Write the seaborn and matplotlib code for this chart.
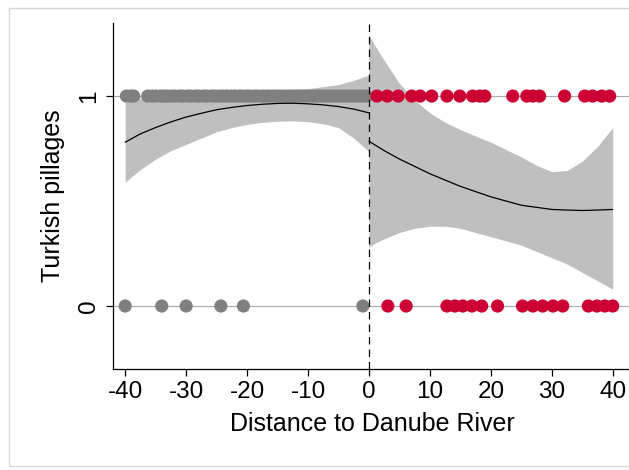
import numpy as np
import pandas as pd
import matplotlib
matplotlib.use("Agg")
import matplotlib.pyplot as plt
from matplotlib.patches import Rectangle
import seaborn as sns

# Observations: distance to the Danube (km) and pillage indicator
west_x_one = [-39.8, -39.1, -38.6, -36.3, -35.6, -35.0, -34.2, -33.7, -33.1, -32.4,
              -31.8, -31.0, -30.5, -29.7, -29.2, -28.4, -27.9, -27.1, -26.6, -25.8,
              -25.2, -24.5, -23.9, -23.3, -22.6, -22.0, -21.3, -20.8, -20.1, -19.5,
              -18.8, -18.2, -17.5, -16.9, -16.3, -15.6, -15.0, -14.4, -13.7, -13.1,
              -12.5, -11.8, -11.2, -10.6, -9.9, -9.3, -8.6, -8.1, -7.4, -6.8,
              -6.1, -5.5, -4.9, -4.2, -3.6, -3.0, -2.3, -1.7, -1.1, -0.5]
west_x_zero = [-40.0, -34.0, -30.0, -24.3, -20.6, -1.0]
east_x_one = [1.3, 3.0, 4.8, 7.0, 8.4, 10.3, 12.8, 14.9, 17.0, 18.2, 19.0,
              23.6, 25.9, 26.9, 28.0, 32.1, 35.4, 36.7, 38.2, 39.5]
east_x_zero = [3.1, 6.1, 12.8, 14.1, 15.4, 16.9, 18.5, 21.1, 25.2, 26.9,
               28.5, 30.2, 31.8, 36.0, 37.4, 38.7, 40.0]

# Quadratic fits with 95% confidence bands on each side of the river
west_grid = [-40, -37.5, -35, -32.5, -30, -27.5, -25, -22.5, -20, -17.5,
             -15, -12.5, -10, -7.5, -5, -2.5, 0]
west_fit = [0.78, 0.82, 0.85, 0.877, 0.90, 0.918, 0.935, 0.946, 0.955, 0.961,
            0.965, 0.966, 0.963, 0.958, 0.95, 0.938, 0.92]
west_lo = [0.59, 0.65, 0.70, 0.74, 0.77, 0.80, 0.83, 0.85, 0.865, 0.875,
           0.88, 0.882, 0.878, 0.868, 0.85, 0.80, 0.735]
west_hi = [0.97, 0.99, 1.00, 1.01, 1.02, 1.025, 1.03, 1.03, 1.03, 1.03,
           1.03, 1.032, 1.035, 1.045, 1.055, 1.075, 1.10]

east_grid = [0, 1, 2.5, 5, 7.5, 10, 12.5, 15, 17.5, 20, 22.5, 25, 27.5,
             30, 32.5, 35, 37.5, 40]
east_fit = [0.785, 0.767, 0.74, 0.70, 0.665, 0.63, 0.60, 0.57, 0.545, 0.52,
            0.50, 0.48, 0.47, 0.46, 0.457, 0.455, 0.457, 0.46]
east_lo = [0.28, 0.30, 0.32, 0.35, 0.37, 0.38, 0.38, 0.37, 0.35, 0.33,
           0.31, 0.29, 0.26, 0.23, 0.20, 0.16, 0.12, 0.08]
east_hi = [1.29, 1.24, 1.17, 1.06, 0.98, 0.92, 0.875, 0.84, 0.81, 0.78,
           0.745, 0.71, 0.67, 0.64, 0.645, 0.69, 0.76, 0.85]

x_ticks = [-40, -30, -20, -10, 0, 10, 20, 30, 40]
y_ticks = [0, 1]

GREY_PT = "#808080"
RED_PT = "#CC0033"
BAND = "#BFBFBF"

sns.set_theme(style="white")
plt.rcParams["font.family"] = ["Liberation Sans", "DejaVu Sans"]
plt.rcParams["text.color"] = "black"
plt.rcParams["axes.labelcolor"] = "black"
plt.rcParams["xtick.color"] = "black"
plt.rcParams["ytick.color"] = "black"

df = pd.DataFrame({
    "dist": west_x_one + west_x_zero + east_x_one + east_x_zero,
    "pillage": [1] * len(west_x_one) + [0] * len(west_x_zero)
               + [1] * len(east_x_one) + [0] * len(east_x_zero),
    "side": ["west"] * (len(west_x_one) + len(west_x_zero))
            + ["east"] * (len(east_x_one) + len(east_x_zero)),
})

fig = plt.figure(figsize=(6.29, 4.70), dpi=100)
fig.patch.set_facecolor("white")
fig.add_artist(Rectangle((9 / 629, 4 / 470), 640 / 629, 458 / 470,
                         transform=fig.transFigure, fill=False,
                         edgecolor="#D8D8D8", linewidth=1.0))

ax = fig.add_axes([113 / 629, 1 - 369 / 470, 518 / 629, 346 / 470])
ax.set_facecolor("white")

for yv in y_ticks:
    ax.axhline(yv, color="#A8A8A8", linewidth=0.8, zorder=1)

ax.fill_between(west_grid, west_lo, west_hi, color=BAND, linewidth=0, zorder=2)
ax.fill_between(east_grid, east_lo, east_hi, color=BAND, linewidth=0, zorder=2)

sns.scatterplot(data=df, x="dist", y="pillage", hue="side",
                palette={"west": GREY_PT, "east": RED_PT},
                s=90, linewidth=0, legend=False, ax=ax, zorder=3)

ax.plot(west_grid, west_fit, color="black", linewidth=0.9, zorder=4)
ax.plot(east_grid, east_fit, color="black", linewidth=0.9, zorder=4)

ax.axvline(0, color="black", linewidth=0.9, linestyle=(0, (6, 4)), zorder=5)

ax.set_xlim(-42, 43)
ax.set_ylim(-0.30, 1.348)
ax.set_xticks(x_ticks)
ax.set_xticklabels([str(v) for v in x_ticks])
ax.set_yticks(y_ticks)
ax.set_yticklabels([str(v) for v in y_ticks], rotation=90, va="center")

ax.tick_params(axis="both", which="both", direction="out", length=5, width=0.9,
               color="black", labelcolor="black", labelsize=17.5, pad=4,
               left=True, bottom=True)
for side in ["top", "right"]:
    ax.spines[side].set_visible(False)
for side in ["left", "bottom"]:
    ax.spines[side].set_color("black")
    ax.spines[side].set_linewidth(0.9)

ax.set_xlabel("Distance to Danube River", fontsize=18, labelpad=6, color="black")
ax.set_ylabel("Turkish pillages", fontsize=18, labelpad=10, color="black")

fig.savefig("out.png", dpi=100)
